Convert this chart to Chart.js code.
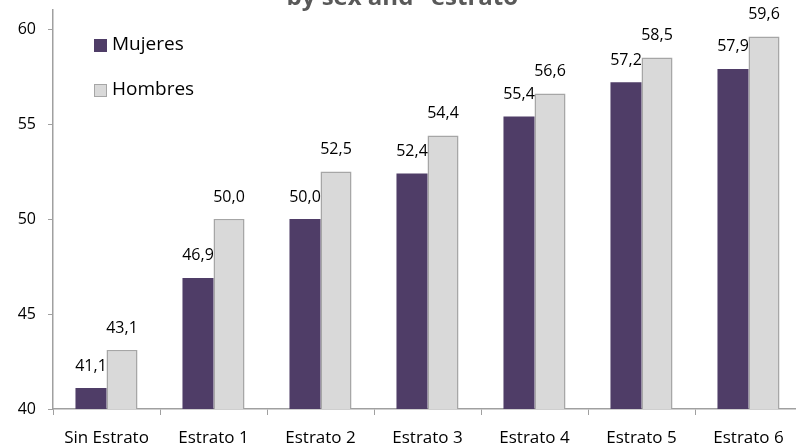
<!DOCTYPE html>
<html>
<head>
<meta charset="utf-8">
<script src="https://cdn.jsdelivr.net/npm/chart.js@4"></script>
<style>
  html, body { margin: 0; padding: 0; background: #fff; overflow: hidden; }
  #wrap { position: relative; width: 803px; height: 444px; }
</style>
</head>
<body>
<div id="wrap"><canvas id="c"></canvas></div>
<script>
const categories = ['Sin Estrato', 'Estrato 1', 'Estrato 2', 'Estrato 3', 'Estrato 4', 'Estrato 5', 'Estrato 6'];
const mujeres    = [41.1, 46.9, 50.0, 52.4, 55.4, 57.2, 57.9];
const hombres    = [43.1, 50.0, 52.5, 54.4, 56.6, 58.5, 59.6];
const yTicks     = [40, 45, 50, 55, 60];
const titleText  = 'by sex and "estrato"';

const FONT = '"Open Sans", "Noto Sans", sans-serif';
const fmt = v => v.toFixed(1).replace('.', ',');

// título cortado arriba + etiquetas de valor + leyenda dentro del área
const overlay = {
  id: 'overlay',
  afterDatasetsDraw(chart) {
    const ctx = chart.ctx;
    ctx.save();
    ctx.fillStyle = '#000';
    ctx.font = `16px ${FONT}`;
    ctx.textAlign = 'center';
    ctx.textBaseline = 'middle';
    chart.data.datasets.forEach((ds, i) => {
      chart.getDatasetMeta(i).data.forEach((bar, j) => {
        ctx.fillText(fmt(ds.data[j]), bar.x, bar.y - 22);
      });
    });

    // título
    ctx.fillStyle = '#595959';
    ctx.font = `bold 24px ${FONT}`;
    ctx.textBaseline = 'alphabetic';
    ctx.fillText(titleText, 408, 5);

    // leyenda
    ctx.font = `19px ${FONT}`;
    ctx.textAlign = 'left';
    ctx.textBaseline = 'middle';
    const items = [
      { label: 'Mujeres', y: 45 },
      { label: 'Hombres', y: 90 },
    ];
    items.forEach((it, i) => {
      const ds = chart.data.datasets[i];
      ctx.fillStyle = ds.backgroundColor;
      ctx.fillRect(94, it.y - 6, 13, 13);
      if (ds.borderWidth) {
        ctx.strokeStyle = ds.borderColor;
        ctx.lineWidth = 1;
        ctx.strokeRect(94.5, it.y - 5.5, 12, 12);
      }
      ctx.fillStyle = '#000';
      ctx.fillText(it.label, 112, it.y);
    });
    ctx.restore();
  },
};

new Chart(document.getElementById('c'), {
  type: 'bar',
  data: {
    labels: categories,
    datasets: [
      {
        label: 'Mujeres',
        data: mujeres,
        backgroundColor: '#4f3d67',
        borderWidth: 0,
        categoryPercentage: 0.58,
        barPercentage: 1,
      },
      {
        label: 'Hombres',
        data: hombres,
        backgroundColor: '#d9d9d9',
        borderColor: '#a6a6a6',
        borderWidth: 1.5,
        categoryPercentage: 0.58,
        barPercentage: 1,
      },
    ],
  },
  options: {
    responsive: true,
    maintainAspectRatio: false,
    animation: false,
    layout: { padding: { top: 10, right: 1, bottom: 0, left: 0 } },
    plugins: { legend: { display: false }, tooltip: { enabled: false } },
    scales: {
      x: {
        afterFit: axis => { axis.height = 35; axis.paddingLeft = 0; axis.paddingRight = 0; },
        grid: { display: true, drawOnChartArea: false, offset: true, color: '#a0a0a0', tickLength: 6 },
        border: { color: '#a0a0a0', width: 1.5 },
        ticks: { color: '#000', font: { family: FONT, size: 17 }, maxRotation: 0, padding: 13 },
      },
      y: {
        min: 40,
        max: 61,
        afterBuildTicks: axis => { axis.ticks = yTicks.map(v => ({ value: v })); },
        afterFit: axis => { axis.width = 53; axis.paddingTop = 0; axis.paddingBottom = 0; },
        grid: { display: true, drawOnChartArea: false, color: '#a0a0a0', tickLength: 5 },
        border: { color: '#a0a0a0', width: 1.5 },
        ticks: { color: '#000', font: { family: FONT, size: 16 }, padding: 12 },
      },
    },
  },
  plugins: [overlay],
});
</script>
</body>
</html>
